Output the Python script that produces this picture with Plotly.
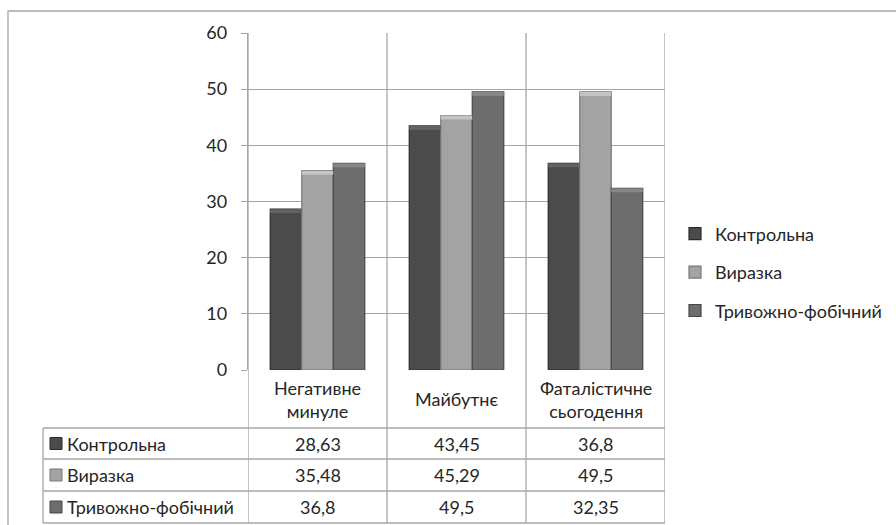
import plotly.graph_objects as go

# Categories (bottom of the chart) and the three groups being compared
categories = ["Негативне<br>минуле", "Майбутнє", "Фаталістичне<br>сьогодення"]
series_names = ["Контрольна", "Виразка", "Тривожно-фобічний"]
kontrolna = [28.63, 43.45, 36.8]
vyrazka = [35.48, 45.29, 49.5]
tryvozhno = [36.8, 49.5, 32.35]
y_ticks = [0, 10, 20, 30, 40, 50, 60]

series_values = [kontrolna, vyrazka, tryvozhno]
fills = ["#4b4b4b", "#a3a3a3", "#6d6d6d"]
edges = ["#2a2a2a", "#7a7a7a", "#474747"]
caps = ["#626262", "#c4c4c4", "#878787"]

W, H = 896, 525
FONT = "Lato"
TXT = "#262626"
GRID = "#a6a6a6"
CAP = 0.7  # height of the bevelled top of each bar, in axis units


def xp(px):
    return px / W


def yp(py):
    return 1 - py / H


# plot-area pixel geometry
PL, PR, PT, PB = 248, 665, 33, 370
TABLE_L = 43
ROW_LINES = [428, 459, 491, 523]

fig = go.Figure()
xs = list(range(len(categories)))
for k, (name, vals, fc, ec) in enumerate(zip(series_names, series_values, fills, edges)):
    fig.add_trace(go.Bar(
        x=xs, y=vals, name=name, offsetgroup=str(k),
        marker=dict(color=fc, line=dict(color=ec, width=1.2)),
        legendgroup=name,
    ))
# lighter bevel strip on top of each bar, sharing the bar's slot
for k, (name, vals, cc) in enumerate(zip(series_names, series_values, caps)):
    fig.add_trace(go.Bar(
        x=xs, y=[CAP] * len(vals), base=[v - CAP for v in vals],
        offsetgroup=str(k), showlegend=False, hoverinfo="skip",
        marker=dict(color=cc, line=dict(color=cc, width=0)),
    ))

shapes = []
# outer chart frame (runs off the right and bottom edges)
shapes.append(dict(type="rect", xref="paper", yref="paper",
                   x0=xp(8), x1=xp(W + 20), y0=yp(H + 20), y1=yp(11),
                   line=dict(color=GRID, width=1.3), fillcolor="rgba(0,0,0,0)", layer="below"))
# vertical category separators, continued down through the data table
for i in range(len(categories) + 1):
    shapes.append(dict(type="line", xref="x", yref="paper",
                       x0=i - 0.5, x1=i - 0.5, y0=yp(ROW_LINES[-1]), y1=yp(PT),
                       line=dict(color=GRID, width=1.3), layer="below"))
# horizontal lines of the data table
for ry in ROW_LINES:
    shapes.append(dict(type="line", xref="paper", yref="paper",
                       x0=xp(TABLE_L), x1=xp(PR), y0=yp(ry), y1=yp(ry),
                       line=dict(color=GRID, width=1.3)))
# table left edge
shapes.append(dict(type="line", xref="paper", yref="paper",
                   x0=xp(TABLE_L), x1=xp(TABLE_L), y0=yp(ROW_LINES[-1]), y1=yp(ROW_LINES[0]),
                   line=dict(color=GRID, width=1.3)))

annotations = []
# category headers of the table
for i, cat in enumerate(categories):
    annotations.append(dict(xref="x", yref="paper", x=i, y=yp((PB + ROW_LINES[0]) / 2),
                            text=cat, showarrow=False, align="center",
                            font=dict(family=FONT, size=18, color=TXT),
                            yanchor="middle", xanchor="center"))
# table rows: legend key, series name and values
for r, (name, vals, fc, ec) in enumerate(zip(series_names, series_values, fills, edges)):
    cy = (ROW_LINES[r] + ROW_LINES[r + 1]) / 2
    shapes.append(dict(type="rect", xref="paper", yref="paper",
                       x0=xp(50), x1=xp(62), y0=yp(cy + 6), y1=yp(cy - 6),
                       fillcolor=fc, line=dict(color=ec, width=1)))
    annotations.append(dict(xref="paper", yref="paper", x=xp(65), y=yp(cy),
                            text=name, showarrow=False, xanchor="left", yanchor="middle",
                            font=dict(family=FONT, size=18, color=TXT)))
    for i, v in enumerate(vals):
        annotations.append(dict(xref="x", yref="paper", x=i, y=yp(cy),
                                text=f"{v:g}".replace(".", ","), showarrow=False,
                                xanchor="center", yanchor="middle",
                                font=dict(family=FONT, size=18, color=TXT)))

fig.update_layout(
    width=W, height=H, autosize=False,
    margin=dict(l=0, r=0, t=0, b=0, autoexpand=False),
    paper_bgcolor="white", plot_bgcolor="white",
    barmode="group", bargap=0.32, bargroupgap=0,
    font=dict(family=FONT, size=18, color=TXT),
    xaxis=dict(domain=[xp(PL), xp(PR)], range=[-0.5, 2.5], automargin=False,
               showticklabels=False, showgrid=False, zeroline=False,
               showline=False, ticks=""),
    yaxis=dict(domain=[yp(PB), yp(PT)], range=[0, 60], tickvals=y_ticks,
               automargin=False,
               showgrid=True, gridcolor=GRID, gridwidth=1.3,
               zeroline=False, showline=True, linecolor=GRID, linewidth=1.3,
               ticks="outside", ticklen=6, tickcolor=GRID, tickwidth=1.3,
               ticklabelstandoff=10,
               tickfont=dict(family=FONT, size=18, color=TXT)),
    legend=dict(x=xp(675), y=yp(272.5), xanchor="left", yanchor="middle",
                font=dict(family=FONT, size=18, color=TXT),
                traceorder="grouped", tracegroupgap=12,
                bgcolor="rgba(0,0,0,0)"),
    shapes=shapes, annotations=annotations,
)

fig.write_html("out.html")
